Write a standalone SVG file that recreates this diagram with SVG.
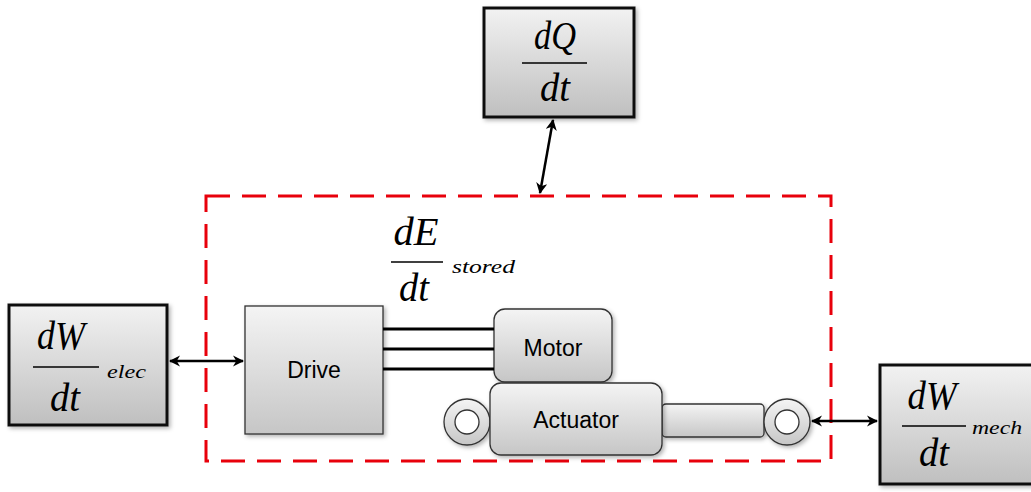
<svg xmlns="http://www.w3.org/2000/svg" width="1031" height="492" viewBox="0 0 1031 492">
  <defs>
    <linearGradient id="boxGrad" x1="0" y1="0" x2="0" y2="1">
      <stop offset="0" stop-color="#f2f2f2"/>
      <stop offset="1" stop-color="#bfbfbf"/>
    </linearGradient>
    <linearGradient id="partGrad" x1="0" y1="0" x2="0" y2="1">
      <stop offset="0" stop-color="#f4f4f4"/>
      <stop offset="1" stop-color="#c6c6c6"/>
    </linearGradient>
    <filter id="shadow" x="-10%" y="-10%" width="125%" height="130%">
      <feDropShadow dx="2" dy="2" stdDeviation="2" flood-color="#000" flood-opacity="0.3"/>
    </filter>
    <marker id="arrow" viewBox="0 0 10 10" refX="9" refY="5" markerWidth="4.5" markerHeight="4.5" orient="auto-start-reverse">
      <path d="M0,0 L10,5 L0,10 L3,5 z" fill="#000"/>
    </marker>
    <style>
      .flow { fill: url(#boxGrad); stroke: #111; stroke-width: 3; filter: url(#shadow); }
      .part { fill: url(#partGrad); stroke: #333; stroke-width: 1.3; filter: url(#shadow); }
      .math { font-family: "Liberation Serif", "Times New Roman", serif; font-style: italic; font-size: 40px; fill: #000; }
      .sub { font-family: "Liberation Serif", "Times New Roman", serif; font-style: italic; font-size: 19px; fill: #000; }
      .bar { stroke: #000; stroke-width: 1.3; }
      .label { font-family: "Liberation Sans", Arial, sans-serif; font-size: 23px; fill: #000; text-anchor: middle; }
      .conn { stroke: #000; stroke-width: 2.5; fill: none; marker-start: url(#arrow); marker-end: url(#arrow); }
      .phase { stroke: #000; stroke-width: 3; }
    </style>
  </defs>

  <!-- system boundary -->
  <rect id="boundary" x="206" y="196" width="625" height="265" fill="none" stroke="#e8000b" stroke-width="3" stroke-dasharray="24 12"/>

  <!-- heat flow -->
  <g id="heat">
    <rect class="flow" x="484" y="8" width="150" height="109"/>
    <text class="math" x="555" y="49" text-anchor="middle" textLength="42" lengthAdjust="spacingAndGlyphs">dQ</text>
    <line class="bar" x1="522" y1="63" x2="587" y2="63"/>
    <text class="math" x="555" y="101" text-anchor="middle" textLength="30" lengthAdjust="spacingAndGlyphs">dt</text>
  </g>

  <!-- electrical power -->
  <g id="elec">
    <rect class="flow" x="9" y="305" width="158" height="120"/>
    <text class="math" x="61" y="349" text-anchor="middle" textLength="48" lengthAdjust="spacingAndGlyphs">dW</text>
    <line class="bar" x1="33" y1="367" x2="99" y2="367"/>
    <text class="math" x="65" y="411" text-anchor="middle" textLength="30" lengthAdjust="spacingAndGlyphs">dt</text>
    <text class="sub" x="107" y="378" textLength="39" lengthAdjust="spacingAndGlyphs">elec</text>
  </g>

  <!-- mechanical power -->
  <g id="mech">
    <rect class="flow" x="880" y="365" width="160" height="119"/>
    <text class="math" x="932" y="409" text-anchor="middle" textLength="49" lengthAdjust="spacingAndGlyphs">dW</text>
    <line class="bar" x1="902" y1="426" x2="966" y2="426"/>
    <text class="math" x="934" y="466" text-anchor="middle" textLength="30" lengthAdjust="spacingAndGlyphs">dt</text>
    <text class="sub" x="972" y="434" textLength="50" lengthAdjust="spacingAndGlyphs">mech</text>
  </g>

  <!-- stored energy -->
  <g id="stored">
    <text class="math" x="416" y="245" text-anchor="middle" textLength="45" lengthAdjust="spacingAndGlyphs">dE</text>
    <line class="bar" x1="391" y1="262" x2="443" y2="262"/>
    <text class="math" x="414" y="301" text-anchor="middle" textLength="30" lengthAdjust="spacingAndGlyphs">dt</text>
    <text class="sub" x="452" y="273" textLength="63" lengthAdjust="spacingAndGlyphs">stored</text>
  </g>

  <!-- drive -->
  <g id="drive">
    <rect class="part" x="245" y="306" width="138" height="128"/>
    <text class="label" x="314" y="378" font-size="21">Drive</text>
  </g>

  <!-- motor -->
  <g id="motor">
    <rect class="part" x="494" y="309" width="118" height="73" rx="11"/>
    <text class="label" x="553" y="356">Motor</text>
  </g>

  <!-- actuator with rod and eyes -->
  <g id="actuator">
    <circle class="part" cx="467" cy="422" r="23"/>
    <circle cx="467" cy="422" r="12" fill="#fff" stroke="#333" stroke-width="1.3"/>
    <rect class="part" x="662" y="404" width="102" height="33" rx="4"/>
    <rect class="part" x="490" y="383" width="172" height="72" rx="11"/>
    <text class="label" x="576" y="428">Actuator</text>
    <circle class="part" cx="787" cy="422" r="23"/>
    <circle cx="787" cy="422" r="12" fill="#fff" stroke="#333" stroke-width="1.3"/>
  </g>

  <!-- connectors -->
  <g id="connectors">
    <line class="conn" x1="553" y1="120" x2="540" y2="193"/>
    <line class="conn" x1="170" y1="361" x2="243" y2="361"/>
    <line class="conn" x1="812" y1="421" x2="877" y2="421"/>
    <line class="phase" x1="383" y1="329" x2="494" y2="329"/>
    <line class="phase" x1="383" y1="349" x2="494" y2="349"/>
    <line class="phase" x1="383" y1="369" x2="494" y2="369"/>
  </g>
</svg>
